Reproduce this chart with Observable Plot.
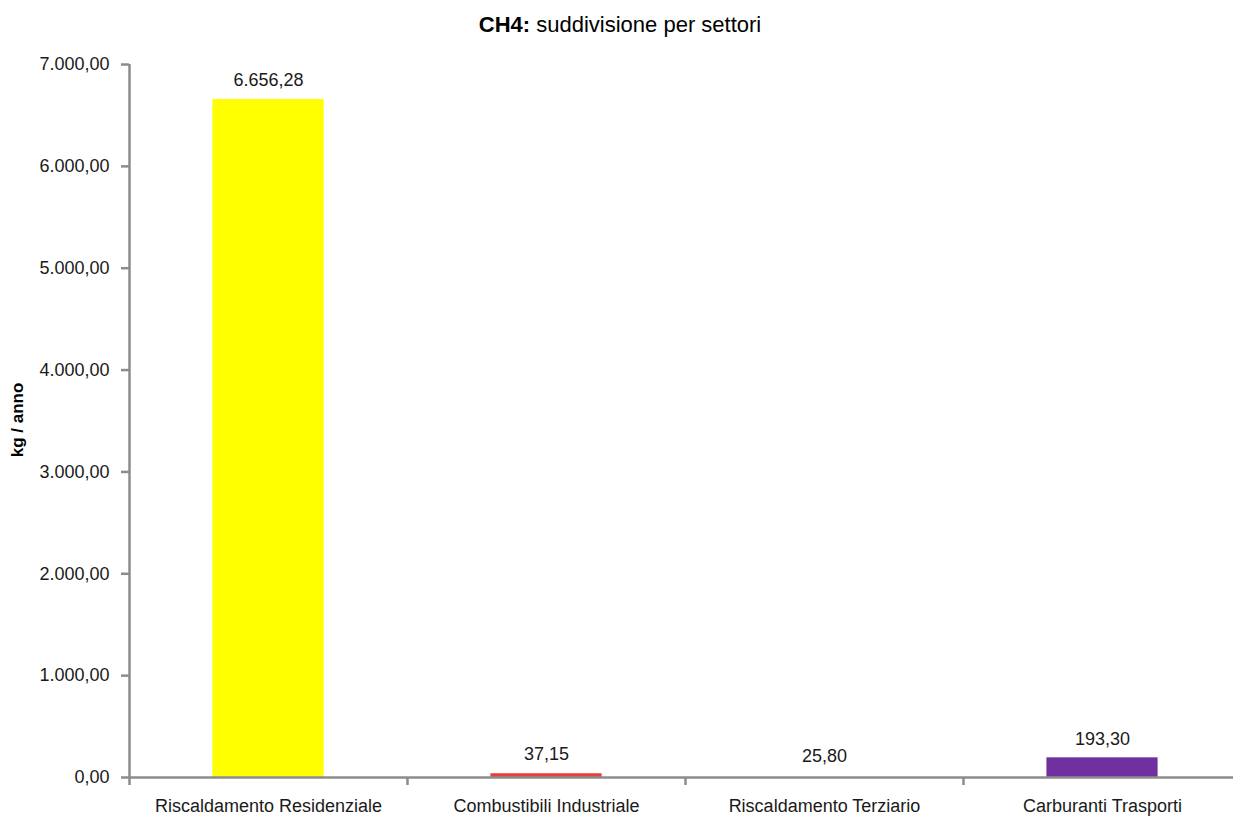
<!DOCTYPE html>
<html>
<head>
<meta charset="utf-8">
<script src="https://cdn.jsdelivr.net/npm/d3@7"></script>
<script src="https://cdn.jsdelivr.net/npm/@observablehq/plot@0.6"></script>
<style>
  html, body { margin: 0; padding: 0; background: #fff; }
  #wrap { position: relative; width: 1233px; height: 818px; font-family: "Liberation Sans", Arial, sans-serif; }
  #title { position: absolute; left: 0; width: 1240px; top: 12px; text-align: center; font-size: 22px; color: #000; }
  #title b { font-weight: bold; }
  #ylab { position: absolute; left: 18px; top: 420px; transform: translate(-50%, -50%) rotate(-90deg); font-size: 17px; font-weight: bold; color: #000; white-space: nowrap; }
  #chart { position: absolute; left: 0; top: 0; }
  #chart svg text { font-size: 18px; }
</style>
</head>
<body>
<div id="wrap">
  <div id="chart"></div>
  <div id="title"><b>CH4:</b> suddivisione per settori</div>
  <div id="ylab">kg / anno</div>
</div>
<script>
const categories = ["Riscaldamento Residenziale", "Combustibili Industriale", "Riscaldamento Terziario", "Carburanti Trasporti"];
const values = [6656.28, 37.15, 25.80, 193.30];
const colors = ["#FFFF00", "#E8413C", "#FFFFFF", "#7030A0"];
const yTicks = [0, 1000, 2000, 3000, 4000, 5000, 6000, 7000];

const it = d3.formatLocale({decimal: ",", thousands: ".", grouping: [3], currency: ["€", ""]});
const fmt = it.format(",.2f");

const data = categories.map((c, i) => ({cat: c, i, value: values[i], color: colors[i]}));
const font = '"Liberation Sans", Arial, sans-serif';

const chart = Plot.plot({
  width: 1233,
  height: 818,
  marginLeft: 129,
  marginRight: 0,
  marginTop: 64,
  marginBottom: 41,
  style: {fontFamily: font, fontSize: "18px", color: "#1a1a1a", background: "transparent"},
  x: {type: "linear", domain: [0, categories.length], range: [129, 1241]},
  y: {domain: [0, 7000]},
  marks: [
    Plot.rectY(data, {x1: d => d.i + 0.3, x2: d => d.i + 0.7, y1: 0, y2: "value", fill: "color"}),
    Plot.text(data, {x: d => d.i + 0.5, y: "value", text: d => fmt(d.value), dy: -19, lineAnchor: "middle", fontSize: 18, fill: "#1a1a1a"}),
    Plot.ruleY([0], {stroke: "#8c8c8c", strokeWidth: 2.5}),
    Plot.ruleX([0], {stroke: "#8c8c8c", strokeWidth: 2.5}),
    Plot.axisY({ticks: yTicks, tickFormat: fmt, tickSize: 8, tickPadding: 12, stroke: "#8c8c8c", strokeWidth: 2.5, label: null, fontSize: 18, fill: "#1a1a1a"}),
    Plot.axisX({ticks: d3.range(0, categories.length + 1), tickFormat: () => "", tickSize: 8, stroke: "#8c8c8c", strokeWidth: 2.5, label: null}),
    Plot.axisX({ticks: d3.range(categories.length).map(i => i + 0.5), tickFormat: v => categories[Math.floor(v)], tickSize: 0, tickPadding: 22, label: null, fontSize: 18, fill: "#1a1a1a"})
  ]
});
document.getElementById("chart").appendChild(chart);
</script>
</body>
</html>
